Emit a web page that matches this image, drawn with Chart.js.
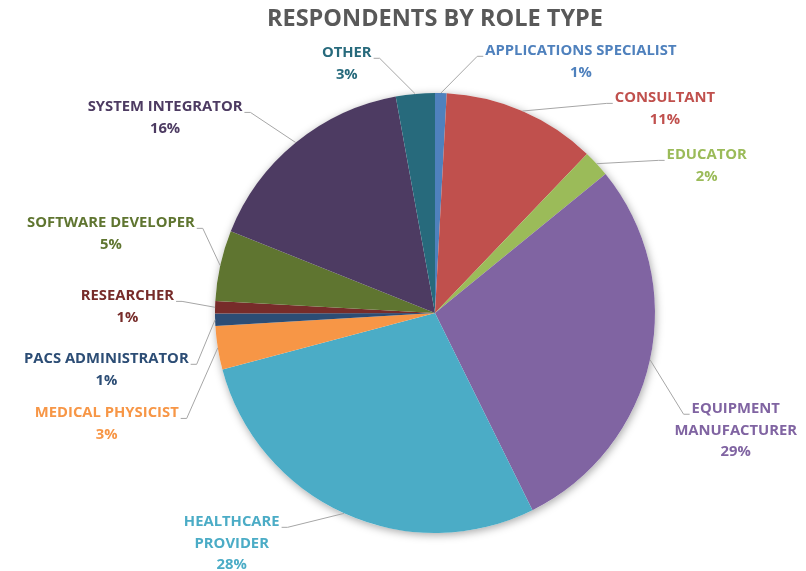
<!DOCTYPE html>
<html><head><meta charset="utf-8">
<script src="https://cdn.jsdelivr.net/npm/chart.js@4/dist/chart.umd.min.js"></script>
<style>html,body{margin:0;padding:0;background:#fff;overflow:hidden}</style>
</head><body>
<canvas id="c" width="806" height="571"></canvas>
<script>
// ---- data ----
const categories = ["APPLICATIONS SPECIALIST","CONSULTANT","EDUCATOR","EQUIPMENT MANUFACTURER","HEALTHCARE PROVIDER","MEDICAL PHYSICIST","PACS ADMINISTRATOR","RESEARCHER","SOFTWARE DEVELOPER","SYSTEM INTEGRATOR","OTHER"];
const values = [0.85, 11.3, 1.98, 28.6, 28.2, 3.2, 0.9, 0.9, 5.2, 16.1, 2.86];
const labelLines = [["APPLICATIONS SPECIALIST"],["CONSULTANT"],["EDUCATOR"],["EQUIPMENT","MANUFACTURER"],["HEALTHCARE","PROVIDER"],["MEDICAL PHYSICIST"],["PACS ADMINISTRATOR"],["RESEARCHER"],["SOFTWARE DEVELOPER"],["SYSTEM INTEGRATOR"],["OTHER"]];
const chartTitle = "RESPONDENTS BY ROLE TYPE";

// ---- style / layout ----
const colors = ["#4F81BD","#C0504D","#9BBB59","#8064A2","#4BACC6","#F79646","#2C4D75","#772C2A","#5F7530","#4D3B62","#276A7C"];
// label block position relative to pie centre, in units of radius (x of text centre, y of first line centre)
const labelPos = [[0.663,-1.191],[1.045,-0.977],[1.235,-0.718],[1.367,0.436],[-0.924,0.950],[-1.492,0.455],[-1.494,0.209],[-1.398,-0.077],[-1.473,-0.409],[-1.227,-0.936],[-0.401,-1.182]];
const FONT = "'Open Sans'";
const LABEL_SIZE = 14.8;
const LINE_H = 21.5;

const labelPlugin = {
  id: 'pieLabels',
  beforeDatasetsDraw(chart) {
    const meta = chart.getDatasetMeta(0);
    const a = meta.data[0];
    const ctx = chart.ctx;
    ctx.save();
    ctx.beginPath();
    ctx.arc(a.x, a.y, a.outerRadius, 0, Math.PI * 2);
    ctx.fillStyle = '#fff';
    ctx.shadowColor = 'rgba(0,0,0,0.35)';
    ctx.shadowBlur = 8;
    ctx.shadowOffsetX = 1;
    ctx.shadowOffsetY = 2;
    ctx.fill();
    ctx.restore();
  },
  afterDatasetsDraw(chart) {
    const meta = chart.getDatasetMeta(0);
    const ctx = chart.ctx;
    const total = values.reduce((s, v) => s + v, 0);
    ctx.save();
    ctx.font = `bold ${LABEL_SIZE}px ${FONT}`;
    ctx.textAlign = 'center';
    ctx.textBaseline = 'middle';
    meta.data.forEach((arc, i) => {
      const r = arc.outerRadius;
      const mid = (arc.startAngle + arc.endAngle) / 2;
      const ax = arc.x + Math.cos(mid) * r;
      const ay = arc.y + Math.sin(mid) * r;
      const lx = arc.x + labelPos[i][0] * r;
      const ly = arc.y + labelPos[i][1] * r;
      const lines = labelLines[i].concat([Math.round(values[i] / total * 100) + '%']);
      const w0 = ctx.measureText(lines[0]).width;
      const rightAttach = labelPos[i][0] < 0;
      const ex = rightAttach ? lx + w0 / 2 + 2 : lx - w0 / 2 - 2;
      const ey = ly + LABEL_SIZE * 0.36;
      const ex2 = rightAttach ? ex + 6 : ex - 6;
      ctx.beginPath();
      ctx.moveTo(ex, ey);
      ctx.lineTo(ex2, ey);
      ctx.lineTo(ax, ay);
      ctx.strokeStyle = '#A6A6A6';
      ctx.lineWidth = 1;
      ctx.stroke();
      ctx.fillStyle = colors[i];
      lines.forEach((t, k) => ctx.fillText(t, lx, ly + k * LINE_H));
    });
    ctx.restore();
  }
};

new Chart(document.getElementById('c'), {
  type: 'pie',
  data: {
    labels: categories,
    datasets: [{ data: values, backgroundColor: colors, borderWidth: 0, hoverOffset: 0 }]
  },
  options: {
    responsive: false,
    animation: false,
    devicePixelRatio: 1,
    layout: { padding: { left: 215, right: 151, top: 0, bottom: 38 } },
    plugins: {
      legend: { display: false },
      tooltip: { enabled: false },
      title: {
        display: true,
        text: chartTitle,
        color: '#595959',
        font: { family: FONT, size: 23.5, weight: 'bold', lineHeight: 1.2 },
        padding: { top: 5, bottom: 59.8 }
      }
    }
  },
  plugins: [labelPlugin]
});
</script>
</body></html>
